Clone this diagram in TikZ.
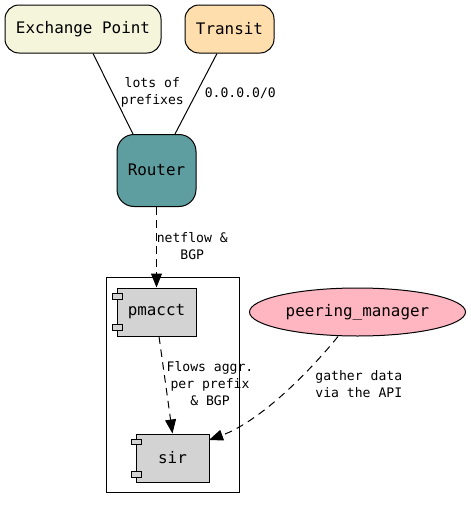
\documentclass[tikz,border=0pt]{standalone}
\usepackage{fontspec}
\setmonofont{DejaVu Sans Mono}
\usetikzlibrary{arrows.meta,shapes.geometric,calc}
\newcommand{\lifted}[1]{\raisebox{1.5pt}{#1}}
\tikzset{
  every node/.style={font=\ttfamily},
  nodetext/.style={font=\fontsize{15.9}{18}\selectfont\ttfamily},
  rbox/.style={draw=black,line width=1pt,nodetext,inner sep=0pt,minimum height=48pt},
  comp/.style={draw=black,line width=1pt,fill=compgrey,nodetext,inner sep=0pt,minimum height=48pt},
  tab/.style={draw=black,line width=1pt,fill=compgrey,minimum width=10.5pt,minimum height=5.5pt,inner sep=0pt},
  elabel/.style={font=\fontsize{13.1}{17}\selectfont\ttfamily,align=center,inner sep=0pt},
  plain/.style={line width=1pt},
  flow/.style={line width=1pt,dash pattern=on 7.5pt off 5.5pt,-{Triangle[length=14pt,width=11pt]}},
}
\definecolor{compgrey}{HTML}{D3D3D3}
\definecolor{beigeb}{HTML}{F5F5DC}
\definecolor{navajo}{HTML}{FFDEAD}
\definecolor{cadet}{HTML}{5F9EA0}
\definecolor{lpink}{HTML}{FFB6C1}
\begin{document}
\begin{tikzpicture}[x=1pt,y=-1pt]
\useasboundingbox (0,0) rectangle (471,509);
\node[draw=black,line width=1pt,minimum width=133pt,minimum height=215pt,inner sep=0pt] (cluster) at (172.5,384.5) {};
\node[rbox,fill=beigeb,rounded corners=14pt,minimum width=156pt] (ep) at (83,29) {\lifted{Exchange Point}};
\node[rbox,fill=navajo,rounded corners=14pt,minimum width=89pt] (transit) at (229.5,29) {\lifted{Transit}};
\node[rbox,fill=cadet,rounded corners=17pt,minimum width=79pt,minimum height=72pt] (router) at (156.5,170.5) {\lifted{Router}};
\node[comp,minimum width=79pt] (pmacct) at (156.5,312) {\lifted{pmacct}};
\node[tab] (pt1) at (117.3,296.5) {};
\node[tab] (pt2) at (117.3,327.5) {};
\node[comp,minimum width=73pt] (sir) at (172.5,458) {\lifted{sir}};
\node[tab] (st1) at (136.3,442) {};
\node[tab] (st2) at (136.3,474.5) {};
\node[ellipse,draw=black,line width=1pt,fill=lpink,nodetext,inner sep=0pt,minimum width=216pt,minimum height=48pt] (pm) at (357.5,312) {\lifted{peering\_manager}};
\draw[plain] ($(ep.south)+(10,0)$) -- ($(router.north)+(-23.5,0)$);
\draw[plain] ($(transit.south)+(-12.5,0)$) -- ($(router.north)+(18.5,0)$);
\draw[flow] (router.south) -- (pmacct.north);
\draw[flow] ($(pmacct.south)+(2.5,0)$) -- (sir.north);
\draw[flow] ($(pm.south)+(-19.5,0)$) .. controls (305,377) and (258,422) .. ($(sir.north east)+(-0.5,6.5)$);
\node[elabel] (l1) at (152.3,92.5) {lots of\\prefixes};
\node[elabel] (l2) at (240.3,93) {0.0.0.0/0};
\node[elabel] (l3) at (192.3,246) {netflow \&\\BGP};
\node[elabel] (l4) at (210,384) {Flows aggr.\\per prefix\\\& BGP};
\node[elabel] (l5) at (358.8,384) {gather data\\via the API};
\end{tikzpicture}
\end{document}
